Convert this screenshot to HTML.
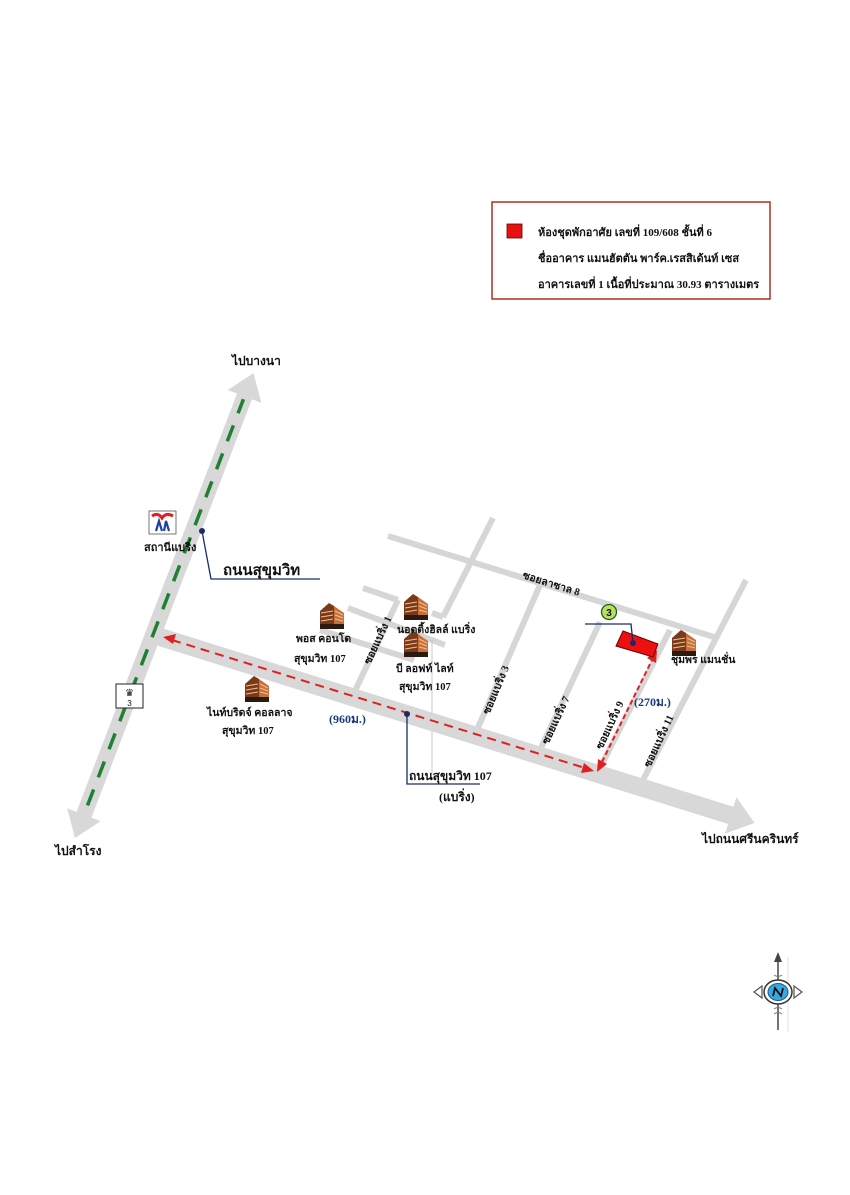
<!DOCTYPE html>
<html><head><meta charset="utf-8"><style>
html,body{margin:0;padding:0;background:#fff;}
svg{display:block;}
text{font-family:"Liberation Serif","Noto Serif CJK SC","Noto Sans CJK SC",serif;font-weight:bold;fill:#111;}
</style></head><body>
<svg width="850" height="1195" viewBox="0 0 850 1195" xmlns="http://www.w3.org/2000/svg">
<defs>
<g id="bld">
<polygon points="0,26 0,8 9,0 14,3 14,26" fill="#7a3a1a"/>
<polygon points="14,3 24,10 24,26 14,26" fill="#c8703a"/>
<g stroke="#f0c090" stroke-width="1">
<line x1="15" y1="8" x2="23" y2="12"/><line x1="15" y1="12" x2="23" y2="15"/><line x1="15" y1="16" x2="23" y2="18"/>
<line x1="1" y1="10" x2="13" y2="8"/><line x1="1" y1="14" x2="13" y2="12"/><line x1="1" y1="18" x2="13" y2="16"/>
</g>
<rect x="0" y="21" width="24" height="5" fill="#2a1a10"/>
</g>
</defs>

<!-- legend -->
<rect x="492" y="202" width="278" height="97" fill="#fff" stroke="#b03020" stroke-width="1.5"/>
<rect x="507" y="224" width="15" height="14" fill="#e81010" stroke="#600" stroke-width="0.8"/>
<text x="538" y="236" font-size="11">ห้องชุดพักอาศัย เลขที่  109/608 ชั้นที่ 6</text>
<text x="538" y="262" font-size="11">ชื่ออาคาร แมนฮัตตัน พาร์ค.เรสสิเด้นท์ เซส</text>
<text x="538" y="288" font-size="11">อาคารเลขที่ 1 เนื้อที่ประมาณ  30.93 ตารางเมตร</text>

<!-- minor roads -->
<g stroke="#d6d6d6" stroke-width="6" stroke-linecap="butt" fill="none">
<line x1="388" y1="536" x2="714" y2="637"/>
<line x1="493" y1="518" x2="443" y2="617"/>
<line x1="443" y1="617" x2="432" y2="613"/>
<line x1="363" y1="588" x2="398" y2="600"/>
<line x1="398" y1="600" x2="354" y2="693"/>
<line x1="348" y1="608" x2="445" y2="645"/>
<line x1="320" y1="630" x2="414" y2="660"/>
<line x1="540" y1="585" x2="477" y2="730"/>
<line x1="600" y1="622" x2="540" y2="750"/>
<line x1="746" y1="580" x2="643" y2="780"/>
<line x1="670" y1="630" x2="598" y2="772"/>
</g>
<line x1="432" y1="640" x2="432" y2="775" stroke="#bbb" stroke-width="0.8"/>

<!-- Sukhumvit 107 road -->
<g transform="translate(160,637) rotate(17.36)">
<rect x="0" y="-9" width="600" height="18" fill="#d8d8d8"/>
<polygon points="598,-19 623,0 598,19" fill="#d8d8d8"/>
</g>
<!-- Sukhumvit main road -->
<g transform="translate(75,838) rotate(-69)">
<rect x="22" y="-8" width="455" height="16" fill="#d8d8d8"/>
<polygon points="25,-18 0,0 25,18" fill="#d8d8d8"/>
<polygon points="473,-18 498,0 473,18" fill="#d8d8d8"/>
<line x1="35" y1="0" x2="470" y2="0" stroke="#1e8030" stroke-width="3.5" stroke-dasharray="17,13"/>
</g>

<!-- red dashed distance arrows -->
<line x1="172" y1="640" x2="585" y2="768" stroke="#e02020" stroke-width="2" stroke-dasharray="9,6"/>
<polygon points="163,637 176,634 173,644" fill="#e02020"/>
<polygon points="594,771 581,773 584,763" fill="#e02020"/>
<line x1="602" y1="762" x2="652" y2="660" stroke="#e02020" stroke-width="2" stroke-dasharray="5,3"/>
<polygon points="597,772 598,759 607,764" fill="#e02020"/>
<polygon points="657,650 656,663 647,658" fill="#e02020"/>

<!-- target building -->
<polygon points="623,631 658,644 653,657 616,646" fill="#ee1010" stroke="#600" stroke-width="1"/>
<polyline points="585,624 631,624 633,643" fill="none" stroke="#1a2a6a" stroke-width="1.3"/>
<circle cx="633" cy="643" r="3" fill="#1a2a6a"/>
<circle cx="609" cy="612" r="7.5" fill="#b8e060" stroke="#206020" stroke-width="1.3"/>
<text x="609" y="616" font-size="10" text-anchor="middle" style="font-family:'Liberation Sans',sans-serif">3</text>

<!-- connectors -->
<polyline points="202,531 211,579 320,579" fill="none" stroke="#1a2a6a" stroke-width="1.3"/>
<circle cx="202" cy="531" r="3" fill="#1a2a6a"/>
<polyline points="407,714 407,784 480,784" fill="none" stroke="#1a2a6a" stroke-width="1.3"/>
<circle cx="407" cy="714" r="3" fill="#1a2a6a"/>

<!-- station logo -->
<rect x="149" y="511" width="27" height="23" fill="#fff" stroke="#555" stroke-width="0.8"/>
<path d="M152,516 Q158,512 162,518 Q166,512 173,516" fill="none" stroke="#e02020" stroke-width="3"/>
<path d="M156,531 L159,521 L162,531 M164,531 L166,521 L169,531" fill="none" stroke="#2040a0" stroke-width="2.2"/>

<!-- shield -->
<rect x="116" y="684" width="27" height="24" fill="#fff" stroke="#222" stroke-width="1"/>
<text x="129.5" y="696" font-size="10" text-anchor="middle" style="font-family:'DejaVu Sans',sans-serif">♛</text>
<text x="129.5" y="706" font-size="8" text-anchor="middle" style="font-family:'Liberation Sans',sans-serif;font-weight:normal">3</text>

<!-- buildings -->
<use href="#bld" x="320" y="603"/>
<use href="#bld" x="404" y="594"/>
<use href="#bld" x="404" y="631"/>
<use href="#bld" x="245" y="676"/>
<use href="#bld" x="672" y="630"/>

<!-- labels -->
<text x="232" y="365" font-size="12">ไปบางนา</text>
<text x="55" y="855" font-size="12">ไปสำโรง</text>
<text x="702" y="843" font-size="12">ไปถนนศรีนครินทร์</text>
<text x="144" y="551" font-size="11">สถานีแบริ่ง</text>
<text x="223" y="575" font-size="15">ถนนสุขุมวิท</text>
<text x="296" y="642" font-size="10.5">พอส คอนโด</text>
<text x="294" y="662" font-size="10.5">สุขุมวิท 107</text>
<text x="397" y="633" font-size="10.5">นอตติ้งฮิลล์ แบริ่ง</text>
<text x="396" y="672" font-size="10.5">บี ลอฟท์ ไลท์</text>
<text x="399" y="690" font-size="10.5">สุขุมวิท 107</text>
<text x="207" y="716" font-size="10.5">ไนท์บริดจ์ คอลลาจ</text>
<text x="222" y="734" font-size="10.5">สุขุมวิท 107</text>
<text x="329" y="723" font-size="12" style="fill:#1a3a7a">(960ม.)</text>
<text x="409" y="780" font-size="12">ถนนสุขุมวิท 107</text>
<text x="439" y="801" font-size="12">(แบริ่ง)</text>
<text x="634" y="706" font-size="12" style="fill:#1a3a7a">(270ม.)</text>
<text x="671" y="663" font-size="10.5">ชุมพร แมนชั่น</text>
<text font-size="10.5" transform="translate(522,578) rotate(17.5)">ซอยลาซาล 8</text>
<text font-size="10.5" transform="translate(370,665) rotate(-65)">ซอยแบริ่ง 1</text>
<text font-size="10.5" transform="translate(489,715) rotate(-67)">ซอยแบริ่ง 3</text>
<text font-size="10.5" transform="translate(548,745) rotate(-65)">ซอยแบริ่ง 7</text>
<text font-size="10.5" transform="translate(602,750) rotate(-65)">ซอยแบริ่ง 9</text>
<text font-size="10.5" transform="translate(650,768) rotate(-65)">ซอยแบริ่ง 11</text>

<!-- compass -->
<g transform="translate(778,992)">
<line x1="0" y1="-37" x2="0" y2="38" stroke="#444" stroke-width="1.5"/>
<polygon points="0,-40 -4,-30 4,-30" fill="#444"/>
<line x1="10" y1="-35" x2="10" y2="40" stroke="#ccc" stroke-width="0.6"/>
<path d="M-24,0 L-16,-6 L-16,6 Z M24,0 L16,-6 L16,6 Z" fill="none" stroke="#555" stroke-width="1.2"/>
<ellipse cx="0" cy="0" rx="14" ry="12" fill="#fff" stroke="#333" stroke-width="1.5"/>
<ellipse cx="0" cy="0" rx="10" ry="8.5" fill="#3aa8e0" stroke="#1a5a8a" stroke-width="1"/>
<path d="M-5,4 L-3,-4 L3,4 L5,-4" fill="none" stroke="#111" stroke-width="1.8"/>
<path d="M-4,-17 Q0,-14 4,-17 M-4,17 Q0,14 4,17 M-4,22 Q0,19 4,22" fill="none" stroke="#777" stroke-width="1"/>
</g>
</svg>
</body></html>
